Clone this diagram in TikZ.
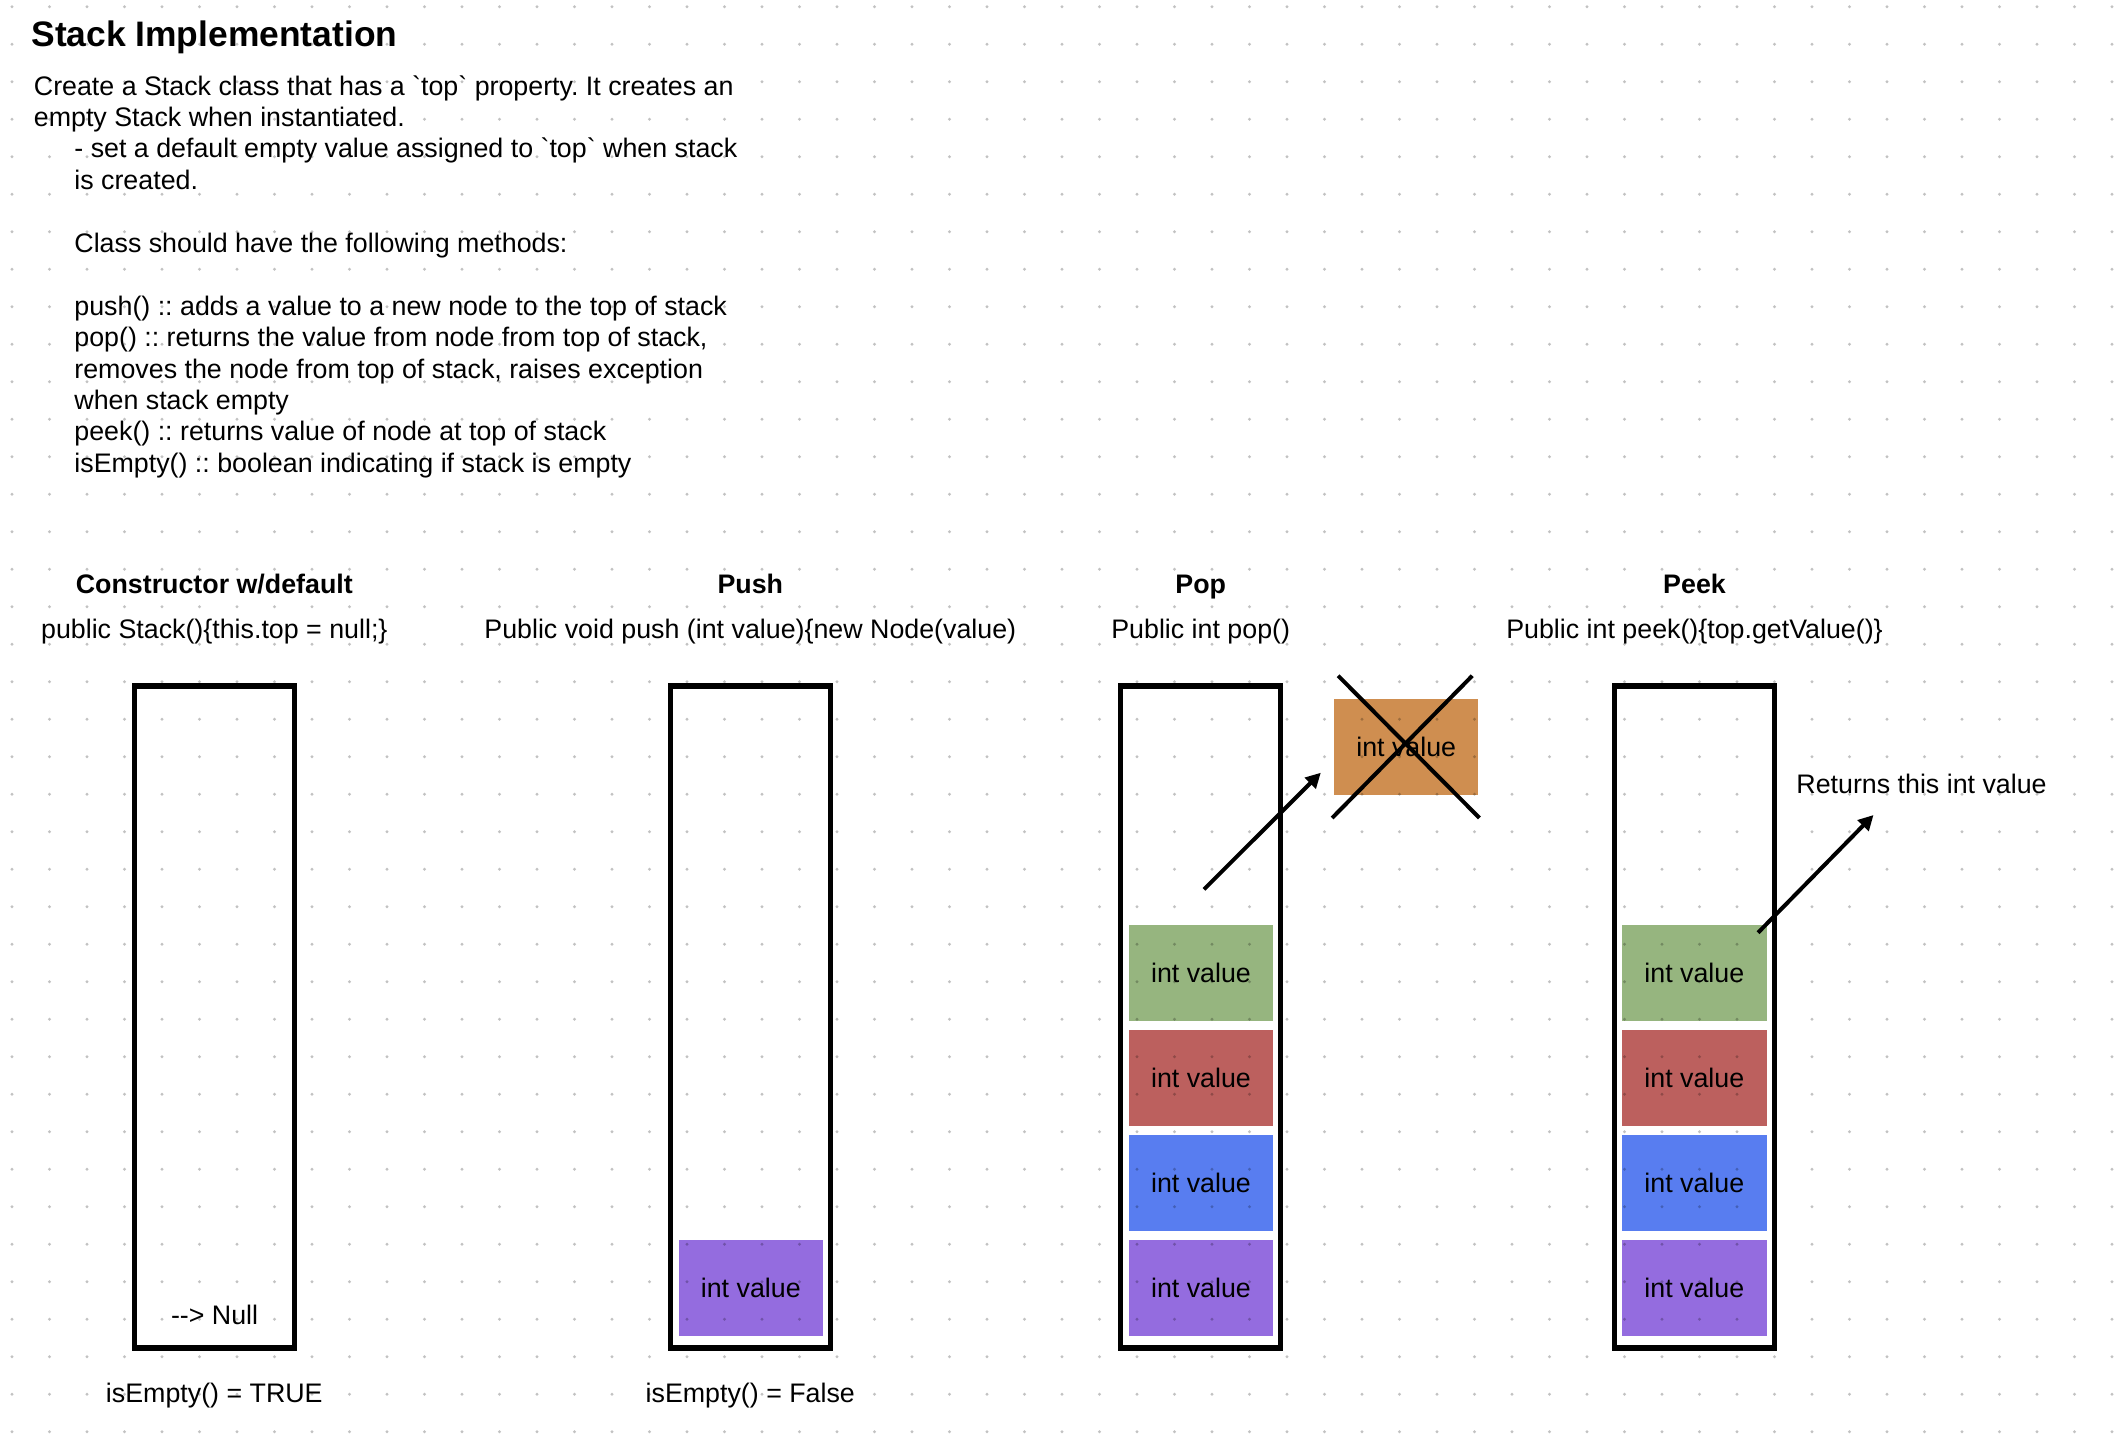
\documentclass[tikz,border=0pt]{standalone}
\usepackage{fontspec}
\setmainfont{Liberation Sans}
\usetikzlibrary{positioning, arrows.meta, calc, backgrounds}
\definecolor{valGreen}{RGB}{150,181,127}
\definecolor{valRed}{RGB}{188,96,94}
\definecolor{valBlue}{RGB}{88,125,240}
\definecolor{valPurple}{RGB}{148,108,223}
\definecolor{valOrange}{RGB}{207,142,80}
\tikzset{
  every node/.style={font=\fontsize{13.4}{16}\selectfont, inner sep=0pt},
  TXT/.style={anchor=base west},
  HDR/.style={anchor=base, font=\fontsize{13.4}{16}\selectfont\bfseries},
  SIG/.style={anchor=base},
  STK/.style={draw, line width=2.75pt, minimum width=80pt, minimum height=331pt},
  VAL/.style={minimum width=72.25pt, minimum height=47.85pt},
  AR/.style={-{Triangle[length=7.5pt, width=7.5pt]}, line width=2pt},
  XL/.style={line width=2pt},
}
\newcommand{\bq}{\textasciigrave}
\frenchspacing

\begin{document}
\begin{tikzpicture}[x=0.5pt, y=0.5pt, yscale=-1]

\useasboundingbox (0,0) rectangle (2114,1442);

%% title and task text
\node[TXT, font=\fontsize{17.7}{20}\selectfont\bfseries] (title) at (31,46.7)
  {Stack Implementation};
\foreach \k/\lx/\ltext [count=\n] in {
  0/33.5/{Create a Stack class that has a \bq top\bq{} property. It creates an},
  1/33.5/{empty Stack when instantiated.},
  2/74/{- set a default empty value assigned to \bq top\bq{} when stack},
  3/74/{is created.},
  5/74/{Class should have the following methods:},
  7/74/{push() :: adds a value to a new node to the top of stack},
  8/74/{pop() :: returns the value from node from top of stack,},
  9/74/{removes the node from top of stack, raises exception},
  10/74/{when stack empty},
  11/74/{peek() :: returns value of node at top of stack},
  12/74/{isEmpty() :: boolean indicating if stack is empty}}
  \node[TXT] (desc\n) at (\lx,95+31.45*\k) {\ltext};

%% the four stacks
\node[STK] (ctor) at (214.3,1017.2) {};
\node[STK] (push) at (750.3,1017.2) {};
\node[STK] (pop)  at (1200.7,1017.2) {};
\node[STK] (peek) at (1694.5,1017.2) {};

\node[VAL, fill=valPurple] (push1) at (750.8,1287.85) {int value};
\foreach \c [count=\n] in {valPurple, valBlue, valRed, valGreen} {
  \node[VAL, fill=\c] (pop\n)  at (1201,1392.85-105*\n) {int value};
  \node[VAL, fill=\c] (peek\n) at (1694.3,1392.85-105*\n) {int value};
}

%% popped value, crossed out
\node[VAL, fill=valOrange] (popped) at (1406.2,747) {int value};
\draw[XL] ([shift={(4.6,-23)}]popped.north west) -- ([shift={(0.6,22.7)}]popped.south east);
\draw[XL] ([shift={(-6.6,-23)}]popped.north east) -- ([shift={(-1.4,22.7)}]popped.south west);

%% dot grid
\foreach \i in {0,...,56}
  \foreach \j in {0,...,38}
    \fill[black, opacity=.24] (12+37.5*\i,6.7+37.5*\j) circle (0.8pt);

%% headers
\node[HDR] (hCtor) at (214.3,593.5) {Constructor w/default};
\node[HDR] (hPush) at (750.3,593.5) {Push};
\node[HDR] (hPop)  at (1200.7,593.5) {Pop};
\node[HDR] (hPeek) at (1694.5,593.5) {Peek};
\node[SIG] (sCtor) at (214.3,638) {public Stack()\{this.top = null;\}};
\node[SIG] (sPush) at (750.3,638) {Public void push (int value)\{new Node(value)};
\node[SIG] (sPop)  at (1200.7,638) {Public int pop()};
\node[SIG] (sPeek) at (1694.5,638) {Public int peek()\{top.getValue()\}};

\node[SIG] (null) at (214.6,1324) {-{}-> Null};
\node[SIG] (eCtor) at (214.3,1402.7) {isEmpty() = TRUE};
\node[SIG] (ePush) at (750.3,1402.7) {isEmpty() = False};
\node[TXT] (ret) at (1796,793) {Returns this int value};

%% arrows
\coordinate (popFrom) at (1204,889.3);
\coordinate (popTo) at (1320.8,772.7);
\draw[AR] (popFrom) -- (popTo);
\coordinate (peekFrom) at (1758,932.7);
\coordinate (peekTo) at (1873.5,815);
\draw[AR] (peekFrom) -- (peekTo);

\end{tikzpicture}
\end{document}
